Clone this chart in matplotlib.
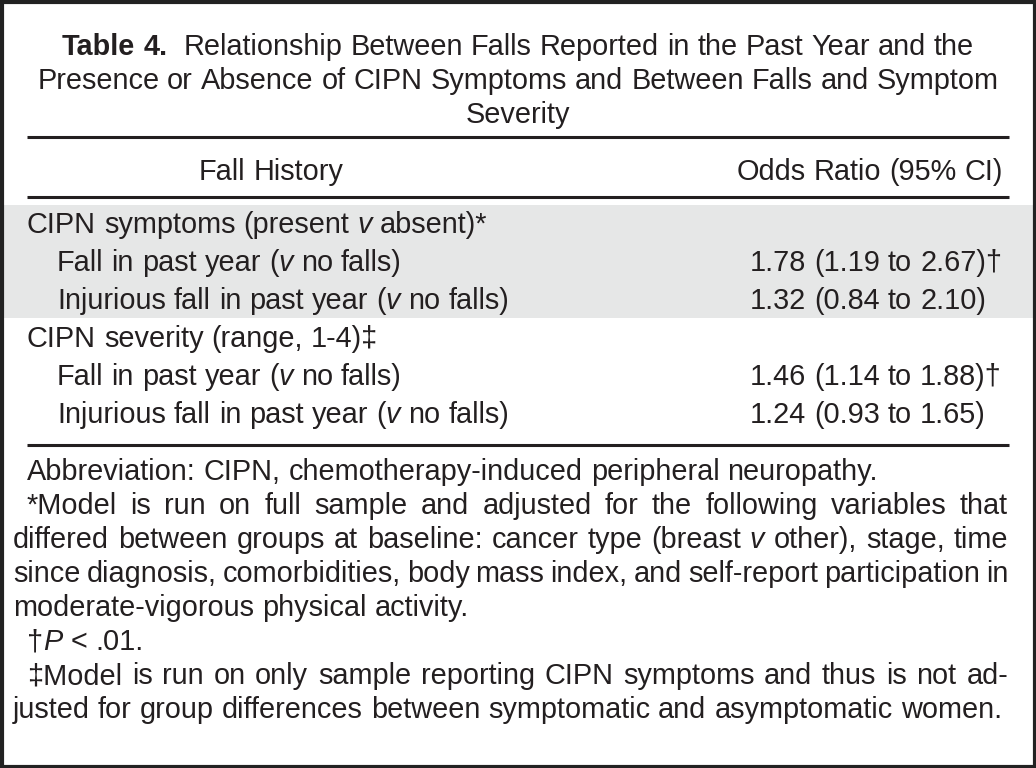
import matplotlib
matplotlib.use("Agg")
import matplotlib.pyplot as plt
from matplotlib.patches import Rectangle

# table content (backticks mark italic runs, ** marks bold)
title_lines = ["**Table 4.**  Relationship Between Falls Reported in the Past Year and the",
               "Presence or Absence of CIPN Symptoms and Between Falls and Symptom",
               "Severity"]
col_headers = ["Fall History", "Odds Ratio (95% CI)"]
row_labels = ["CIPN symptoms (present `v` absent)*",
              "Fall in past year (`v` no falls)",
              "Injurious fall in past year (`v` no falls)",
              "CIPN severity (range, 1-4)‡",
              "Fall in past year (`v` no falls)",
              "Injurious fall in past year (`v` no falls)"]
row_indent = [0, 1, 1, 0, 1, 1]
odds_ratios = ["", "1.78 (1.19 to 2.67)†", "1.32 (0.84 to 2.10)",
               "", "1.46 (1.14 to 1.88)†", "1.24 (0.93 to 1.65)"]
footnotes = [
    ("Abbreviation: CIPN, chemotherapy-induced peripheral neuropathy.", 1, False),
    ("*Model is run on full sample and adjusted for the following variables that", 1, True),
    ("differed between groups at baseline: cancer type (breast `v` other), stage, time", 0, True),
    ("since diagnosis, comorbidities, body mass index, and self-report participation in", 0, True),
    ("moderate-vigorous physical activity.", 0, False),
    ("†`P` < .01.", 1, False),
    ("‡Model is run on only sample reporting CIPN symptoms and thus is not ad-", 1, True),
    ("justed for group differences between symptomatic and asymptomatic women.", 0, False),
]

ink = "#231f20"
fs = 20.8
base = dict(family=["Liberation Sans", "DejaVu Sans"], fontsize=fs, color=ink, va="baseline")

fig = plt.figure(figsize=(10.36, 7.68), dpi=100)
ax = fig.add_axes([0, 0, 1, 1])
ax.set_xlim(0, 1036)
ax.set_ylim(768, 0)
ax.axis("off")
r = fig.canvas.get_renderer()


def style_of(kind):
    st = dict(base)
    if kind == "i":
        st["style"] = "italic"
    elif kind == "b":
        st["weight"] = "bold"
    return st


def parse(word):
    # split a word into (text, kind) runs
    runs = []
    kind = "n"
    buf = ""
    i = 0
    while i < len(word):
        if word.startswith("**", i):
            if buf:
                runs.append((buf, kind))
            buf = ""
            kind = "n" if kind == "b" else "b"
            i += 2
            continue
        if word[i] == "`":
            if buf:
                runs.append((buf, kind))
            buf = ""
            kind = "n" if kind == "i" else "i"
            i += 1
            continue
        buf += word[i]
        i += 1
    if buf:
        runs.append((buf, kind))
    return runs


def width(s, kind):
    t = ax.text(0, 0, s, **style_of(kind))
    w = t.get_window_extent(r).width
    t.remove()
    return w


space_w = width("x x", "n") - width("xx", "n")


def draw_line(line, x0, y, ha="left", x1=None, justify=False):
    words = []
    state = "n"
    for w in line.split(" "):
        if w == "":
            words.append([])
            continue
        w2 = ("`" if state == "i" else "") + ("**" if state == "b" else "") + w
        words.append(parse(w2))
        if w.count("`") % 2:
            state = "n" if state == "i" else "i"
        if w.count("**") % 2:
            state = "n" if state == "b" else "b"
    wws = [sum(width(s, k) for s, k in runs) for runs in words]
    total = sum(wws) + space_w * (len(words) - 1)
    gap = space_w
    if justify and x1 is not None and len(words) > 1:
        gap = (x1 - x0 - sum(wws)) / (len(words) - 1)
    if ha == "center":
        x = x0 - total / 2
    elif ha == "right":
        x = x0 - total
    else:
        x = x0
    for runs in words:
        for s, k in runs:
            ax.text(x, y, s, **style_of(k))
            x += width(s, k)
        x += gap


left, right = 27, 1009

# outer frame
ax.add_patch(Rectangle((1.5, 1.5), 1033, 765, fill=False, lw=3, ec="#222222"))

# title
for i, line in enumerate(title_lines):
    draw_line(line, 518, 55 + 34 * i, ha="center")

# rules
for yy in (137, 197, 445):
    ax.plot([left, right], [yy, yy], color=ink, lw=2.2, solid_capstyle="butt")

# header
draw_line(col_headers[0], 271, 180, ha="center")
draw_line(col_headers[1], 1003, 180, ha="right")

# shaded band behind the first group
row_h = 38
first_base = 233
ax.add_patch(Rectangle((3, 205), 1030, 113, color="#e6e7e7", lw=0, zorder=0))

for i, (lab, ind, orv) in enumerate(zip(row_labels, row_indent, odds_ratios)):
    y = first_base + row_h * i
    draw_line(lab, left + 30 * ind, y)
    if orv:
        draw_line(orv, 750, y)

# footnotes
for i, (line, ind, just) in enumerate(footnotes):
    x0 = 27 if ind else 13
    draw_line(line, x0, 480 + 34 * i, x1=1008, justify=just)

fig.savefig("out.png", dpi=100)
